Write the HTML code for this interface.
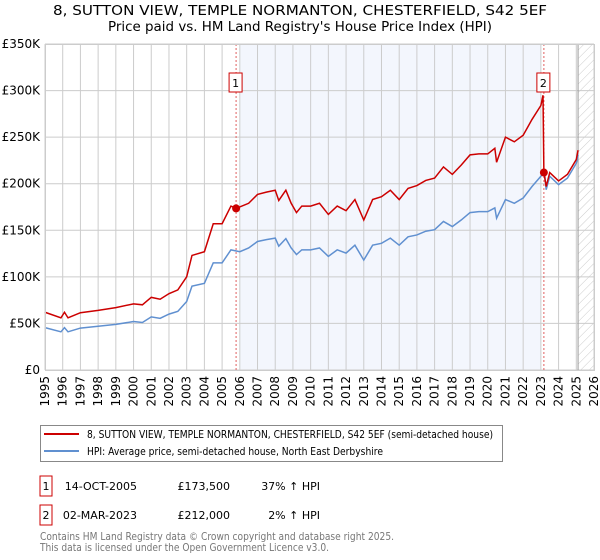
<!DOCTYPE html>
<html><head><meta charset="utf-8"><style>
body{margin:0;background:#fff}
svg{display:block;font-family:"DejaVu Sans","Liberation Sans",sans-serif}
</style></head><body>
<svg width="600" height="560" viewBox="0 0 600 560" id="chart">
<text x="300" y="15" text-anchor="middle" font-size="13" fill="#000" textLength="494" lengthAdjust="spacingAndGlyphs">8, SUTTON VIEW, TEMPLE NORMANTON, CHESTERFIELD, S42 5EF</text>
<text x="300" y="31" text-anchor="middle" font-size="13" fill="#000" textLength="384" lengthAdjust="spacingAndGlyphs">Price paid vs. HM Land Registry's House Price Index (HPI)</text>
<defs><pattern id="hatch" width="6" height="6" patternUnits="userSpaceOnUse" patternTransform="rotate(45)"><line x1="0" y1="0" x2="0" y2="6" stroke="#ccc" stroke-width="1"/></pattern></defs>
<g id="plot"></g>
<g>
<rect x="40.5" y="425.5" width="462" height="36" fill="#fff" stroke="#888"/>
<line x1="44" y1="434" x2="79" y2="434" stroke="#cc0000" stroke-width="2"/>
<text x="87" y="438" font-size="11" textLength="406" lengthAdjust="spacingAndGlyphs">8, SUTTON VIEW, TEMPLE NORMANTON, CHESTERFIELD, S42 5EF (semi-detached house)</text>
<line x1="44" y1="451" x2="79" y2="451" stroke="#6090d0" stroke-width="2"/>
<text x="87" y="455" font-size="11" textLength="296" lengthAdjust="spacingAndGlyphs">HPI: Average price, semi-detached house, North East Derbyshire</text>
</g>
<g font-size="11">
<rect x="40" y="476" width="12" height="20" fill="#fff" stroke="#cc0000"/>
<text x="46" y="490" text-anchor="middle">1</text>
<text x="137" y="490" text-anchor="end">14-OCT-2005</text>
<text x="230" y="490" text-anchor="end">£173,500</text>
<text x="320" y="490" text-anchor="end">37% ↑ HPI</text>
<rect x="40" y="505" width="12" height="20" fill="#fff" stroke="#cc0000"/>
<text x="46" y="519" text-anchor="middle">2</text>
<text x="137" y="519" text-anchor="end">02-MAR-2023</text>
<text x="230" y="519" text-anchor="end">£212,000</text>
<text x="320" y="519" text-anchor="end">2% ↑ HPI</text>
</g>
<text x="40" y="540" font-size="11" fill="#777" textLength="354" lengthAdjust="spacingAndGlyphs">Contains HM Land Registry data © Crown copyright and database right 2025.</text>
<text x="40" y="551" font-size="11" fill="#777" textLength="289" lengthAdjust="spacingAndGlyphs">This data is licensed under the Open Government Licence v3.0.</text>
</svg>
<script>
const yTicks=[0,50,100,150,200,250,300,350];
const yTickLabels=["£0","£50K","£100K","£150K","£200K","£250K","£300K","£350K"];
const xYears=[1995,1996,1997,1998,1999,2000,2001,2002,2003,2004,2005,2006,2007,2008,2009,2010,2011,2012,2013,2014,2015,2016,2017,2018,2019,2020,2021,2022,2023,2024,2025,2026];
const hpiDates=[1995.0,1995.9,1996.1,1996.3,1997,1998,1999,2000,2000.5,2001,2001.5,2002,2002.5,2003,2003.3,2004,2004.5,2005,2005.5,2006,2006.5,2007,2007.5,2008,2008.2,2008.6,2008.9,2009.2,2009.5,2010,2010.5,2011,2011.5,2012,2012.5,2013,2013.5,2014,2014.5,2015,2015.5,2016,2016.5,2017,2017.5,2018,2018.5,2019,2019.5,2020,2020.4,2020.5,2021,2021.5,2022,2022.5,2023,2023.2,2023.3,2023.5,2024,2024.5,2025,2025.1];
const hpiValues=[45.5,41,45.5,41,45,47,49,52,51,57,55.5,60,63,73.5,90,93,115,115,129,127,131,138,140,141.6,133,141,131,124,129,129,131,122,129,125.5,134,118,134,136,141.6,134,143,145,149,150.6,159.5,154,161,169,170,170,174,163,183,179,184.6,197,208,213,193.6,208,199,206,222,231];
const paidDates=[1995.0,1995.9,1996.1,1996.3,1997,1998,1999,2000,2000.5,2001,2001.5,2002,2002.5,2003,2003.3,2004,2004.5,2005,2005.5,2005.79,2006.5,2007,2007.5,2008,2008.2,2008.6,2008.9,2009.2,2009.5,2010,2010.5,2011,2011.5,2012,2012.5,2013,2013.5,2014,2014.5,2015,2015.5,2016,2016.5,2017,2017.5,2018,2018.5,2019,2019.5,2020,2020.4,2020.5,2021,2021.5,2022,2022.5,2023,2023.12,2023.17,2023.3,2023.5,2024,2024.5,2025,2025.1];
const paidValues=[62,56,62,56,61.5,64,67,71,70,78,76,82,86,100,123,127,157,157,176,173.5,179,188.5,191,193,182,193,179,169,176,176,179,167,176,171,183,161,183,186,193,183,195,198,203.5,206,218,210,220,231,232,232,238,223,250,245,252,269,284,295,212,197,212,203,210,226,236];
const sales=[{n:"1",d:2005.79,v:173.5},{n:"2",d:2023.17,v:212}];
const NS="http://www.w3.org/2000/svg";
const L=45,R=594,T=44,B=370;
const x=d=>L+(d-1995)/(2026-1995)*(R-L);
const y=v=>B-v/350*(B-T);
const g=document.getElementById('plot');
function mk(t,a,p){const e=document.createElementNS(NS,t);for(const k in a)e.setAttribute(k,a[k]);(p||g).appendChild(e);return e;}
const bg=mk('rect',{x:x(2006),y:T,width:x(2023)-x(2006),height:B-T,fill:'#f3f6fd'});


const ht=mk('rect',{x:x(2025.1),y:T,width:R-x(2025.1),height:B-T,fill:'url(#hatch)'});


yTicks.forEach((v,i)=>{
 const l=mk('line',{x1:L,x2:R,y1:y(v),y2:y(v),stroke:'#ccc','stroke-width':1});
 
 
 const t=mk('text',{x:L-5,y:y(v)+4,'text-anchor':'end','font-size':12});
 
 
 t.textContent=yTickLabels[i];
});
xYears.forEach(yr=>{
 const l=mk('line',{x1:x(yr),x2:x(yr),y1:T,y2:B,stroke:'#ccc','stroke-width':1});
 
 
 const t=mk('text',{x:0,y:0,'text-anchor':'end','font-size':12,transform:`translate(${x(yr)+4},${B+6}) rotate(-90)`});
 
 
 t.textContent=yr;
});
const vl=mk('line',{x1:x(2025.1),x2:x(2025.1),y1:T,y2:B,stroke:'#999','stroke-width':1});


sales.forEach(s=>{
 const l=mk('line',{x1:x(s.d),x2:x(s.d),y1:T,y2:B,stroke:'#e06060','stroke-width':1,'stroke-dasharray':'2,2'});
 
 
});
const hp=mk('polyline',{points:hpiDates.map((d,i)=>x(d)+','+y(hpiValues[i])).join(' '),fill:'none',stroke:'#6090d0','stroke-width':1.5});


const pp=mk('polyline',{points:paidDates.map((d,i)=>x(d)+','+y(paidValues[i])).join(' '),fill:'none',stroke:'#cc0000','stroke-width':1.5});


sales.forEach(s=>{
 const c=mk('circle',{cx:x(s.d),cy:y(s.v),r:4,fill:'#cc0000'});
 
 
 const bx=x(s.d)-6;
 const r=mk('rect',{x:bx-1,y:73,width:13,height:19,fill:'#fff',stroke:'#cc0000'});
 
 
 const t=mk('text',{x:bx+5.5,y:87,'text-anchor':'middle','font-size':11});
 
 
 t.textContent=s.n;
});
const fr=mk('rect',{x:L+0.5,y:T+0.5,width:R-L,height:B-T,fill:'none',stroke:'#ccc'});


</script>
</body></html>
